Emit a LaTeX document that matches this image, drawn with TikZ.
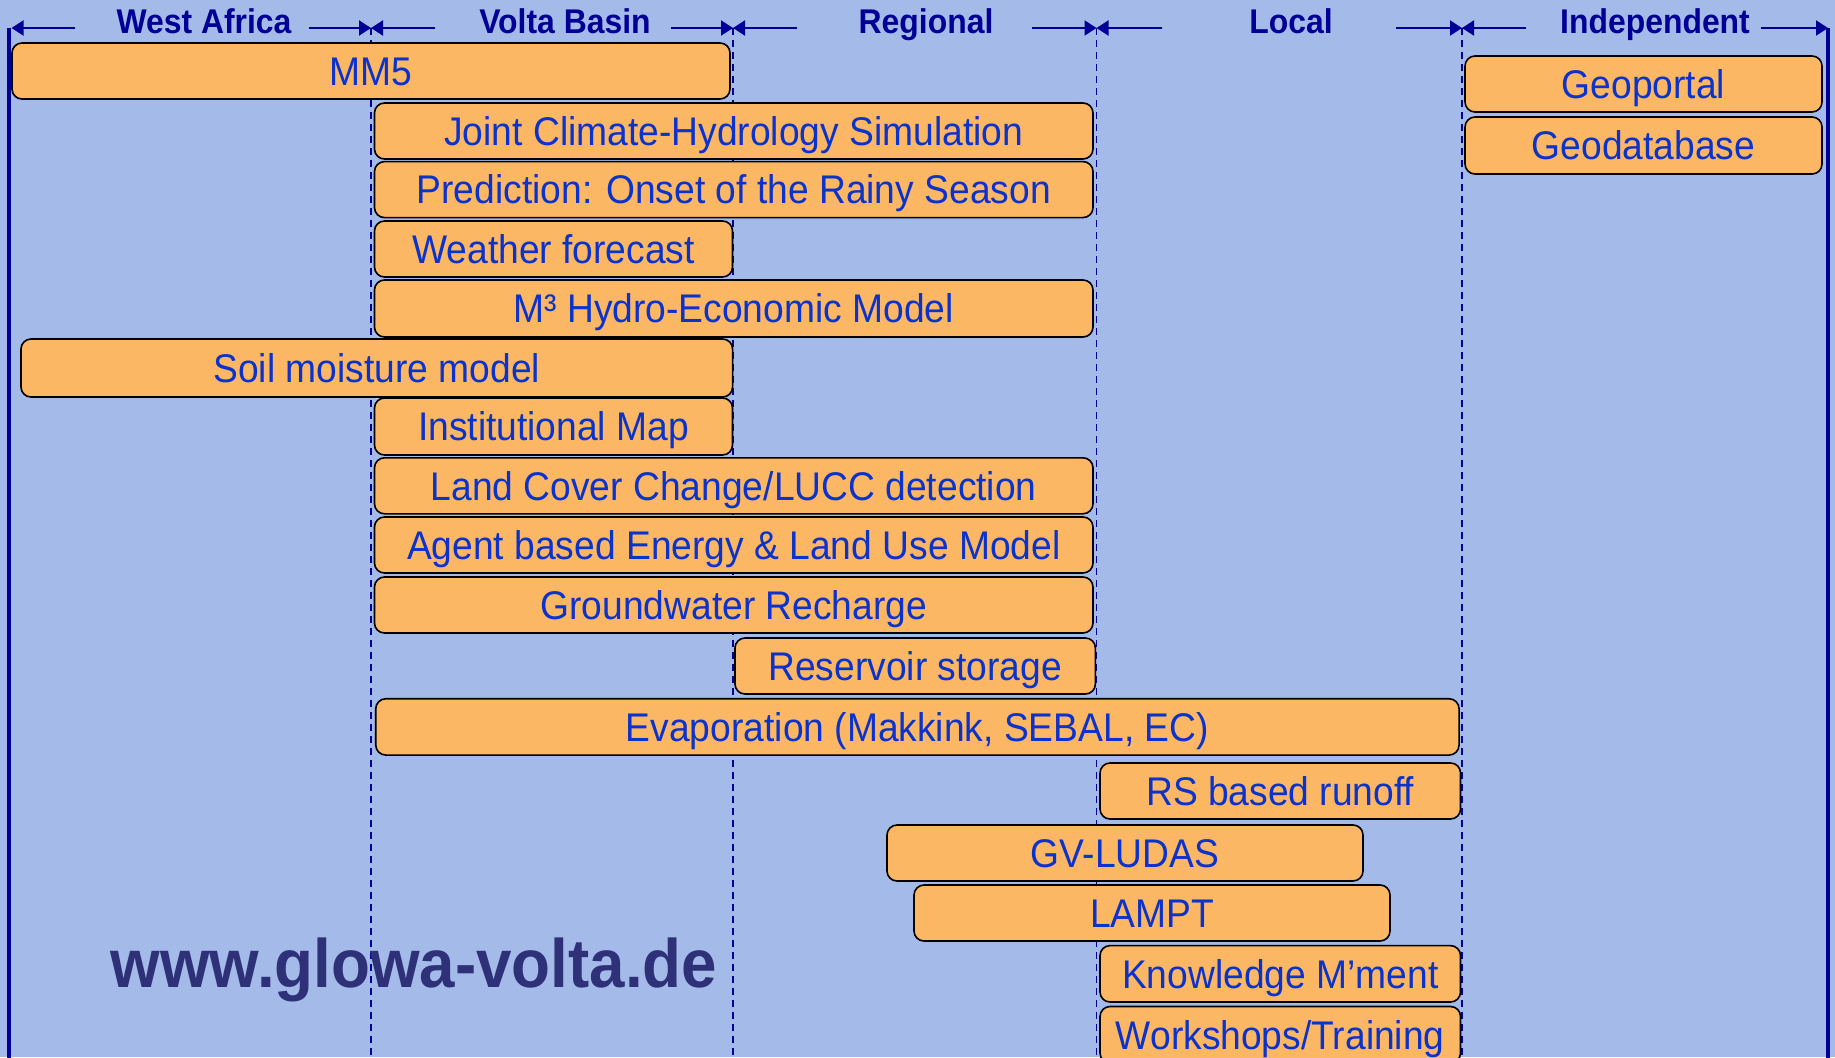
\documentclass[tikz,border=0pt]{standalone}
\usepackage{fontspec}
\setmainfont{Liberation Sans}[FakeStretch=0.93]
\usetikzlibrary{arrows.meta}
\definecolor{bg}{RGB}{164,186,232}
\definecolor{boxfill}{RGB}{251,183,99}
\definecolor{boxtext}{RGB}{10,50,205}
\definecolor{navy}{RGB}{0,0,150}
\definecolor{urlcol}{RGB}{46,48,120}
\begin{document}
\begin{tikzpicture}[x=1pt,y=-1pt,
  bar/.style={draw=black, line width=1.6pt, fill=boxfill, rounded corners=10pt,
    text=boxtext, font=\fontsize{40}{40}\selectfont, inner sep=0pt,
    text height=28.6pt, text depth=0pt},
  hdr/.style={text=navy, font=\fontsize{34.3}{35}\bfseries, inner sep=0pt, anchor=base},
  hline/.style={draw=navy, line width=2pt, -{Triangle[length=12pt,width=15pt]}},
  sep/.style={draw=navy, line width=1.5pt, dash pattern=on 7pt off 5pt},
  side/.style={draw=navy, line width=4.5pt},
]
\useasboundingbox (0,0) rectangle (1835,1057);
\fill[bg] (0,0) rectangle (1835,1057);

% boundaries
\coordinate (b0) at (9,28);
\coordinate (b1) at (371,28);
\coordinate (b2) at (733,28);
\coordinate (b3) at (1096.5,28);
\coordinate (b4) at (1462,28);
\coordinate (b5) at (1828,28);
\coordinate (e0) at (9,1060);
\coordinate (e1) at (371,1060);
\coordinate (e2) at (733,1060);
\coordinate (e3) at (1096.5,1060);
\coordinate (e4) at (1462,1060);
\coordinate (e5) at (1828,1060);

\draw[sep] (b1) -- (e1);
\draw[sep] (b2) -- (e2);
\draw[sep] (b3) -- (e3);
\draw[sep] (b4) -- (e4);
\draw[side] (b0) -- (e0);
\draw[side] (b5) -- (e5);

% header labels
\node[hdr] (hwa) at (204,34) {West Africa};
\node[hdr] (hvb) at (565,34) {Volta Basin};
\node[hdr] (hrg) at (926,34) {Regional};
\node[hdr] (hlc) at (1291,34) {Local};
\node[hdr] (hin) at (1655,34) {Independent};

% header arrow ends
\coordinate (l0) at (75,28);   \coordinate (r0) at (309,28);
\coordinate (l1) at (435,28);  \coordinate (r1) at (670.6,28);
\coordinate (l2) at (797,28);  \coordinate (r2) at (1032,28);
\coordinate (l3) at (1162,28); \coordinate (r3) at (1396,28);
\coordinate (l4) at (1526,28); \coordinate (r4) at (1761,28);
\coordinate (b0a) at (11.5,28);

\draw[hline] (l0) -- (b0a); \draw[hline] (r0) -- (b1);
\draw[hline] (l1) -- (b1);  \draw[hline] (r1) -- (b2);
\draw[hline] (l2) -- (b2);  \draw[hline] (r2) -- (b3);
\draw[hline] (l3) -- (b3);  \draw[hline] (r3) -- (b4);
\draw[hline] (l4) -- (b4);  \draw[hline] (r4) -- (b5);

% bars
\node[bar, minimum width=718pt, minimum height=56pt] (mm5) at (371,71) {MM5};
\node[bar, minimum width=357pt, minimum height=56pt] (geop) at (1643.5,84) {Geoportal};
\node[bar, minimum width=718.5pt, minimum height=56pt] (joint) at (733.75,131) {Joint Climate-Hydrology Simulation};
\node[bar, minimum width=357pt, minimum height=57pt] (geodb) at (1643.5,145.5) {Geodatabase};
\node[bar, minimum width=718.5pt, minimum height=56pt] (pred) at (733.75,189.6) {Prediction: Onset of the Rainy Season};
\node[bar, minimum width=358pt, minimum height=56pt] (wf) at (553.5,249) {Weather forecast};
\node[bar, minimum width=718.5pt, minimum height=57pt] (m3) at (733.75,308.5) {M³ Hydro-Economic Model};
\node[bar, minimum width=711.6pt, minimum height=58pt] (soil) at (376.8,368) {Soil moisture model};
\node[bar, minimum width=358pt, minimum height=57pt] (inst) at (553.5,426.5) {Institutional Map};
\node[bar, minimum width=718.5pt, minimum height=56pt] (lucc) at (733.75,485.8) {Land Cover Change/LUCC detection};
\node[bar, minimum width=718.5pt, minimum height=56pt] (agent) at (733.75,545) {Agent based Energy \& Land Use Model};
\node[bar, minimum width=718.5pt, minimum height=56pt] (gw) at (733.75,605) {Groundwater Recharge};
\node[bar, minimum width=360.4pt, minimum height=56pt] (res) at (915.2,666) {Reservoir storage};
\node[bar, minimum width=1083.3pt, minimum height=56.3pt] (evap) at (917.4,726.9) {Evaporation (Makkink, SEBAL, EC)};
\node[bar, minimum width=360.5pt, minimum height=56pt] (rs) at (1280.25,791) {RS based runoff};
\node[bar, minimum width=476pt, minimum height=56pt] (gvl) at (1125,853) {GV-LUDAS};
\node[bar, minimum width=476pt, minimum height=56pt] (lampt) at (1152,913) {LAMPT};
\node[bar, minimum width=360.5pt, minimum height=56.4pt] (km) at (1280.25,973.8) {Knowledge M’ment};
\node[bar, minimum width=360.5pt, minimum height=56.5pt] (ws) at (1280.25,1034.75) {Workshops/Training};

% url
\node[text=urlcol, font=\fontsize{68.5}{70}\bfseries\selectfont, inner sep=0pt, anchor=base] (url) at (414,987) {www.glowa-volta.de};
\end{tikzpicture}
\end{document}
